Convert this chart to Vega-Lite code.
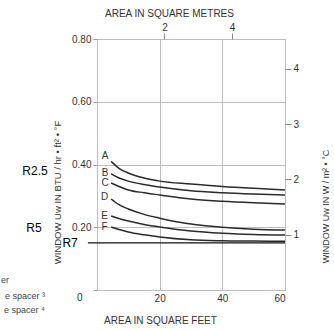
{
  "$schema": "https://vega.github.io/schema/vega-lite/v6.json",
  "width": 188,
  "height": 251,
  "autosize": {"type": "none"},
  "padding": {"left": 97, "top": 39, "right": 49, "bottom": 40},
  "background": "white",
  "config": {
    "font": "Liberation Sans",
    "view": {"stroke": "#a8a8a8", "strokeWidth": 1},
    "axis": {"labelColor": "#333", "titleColor": "#333", "titleFontWeight": "normal", "labelFont": "Liberation Sans", "titleFont": "Liberation Sans"}
  },
  "datasets": {
    "curves": [
      {"curve": "A", "x": 4.5, "u": 0.410}, {"curve": "A", "x": 7, "u": 0.388}, {"curve": "A", "x": 10, "u": 0.373}, {"curve": "A", "x": 15, "u": 0.357}, {"curve": "A", "x": 20, "u": 0.347}, {"curve": "A", "x": 30, "u": 0.338}, {"curve": "A", "x": 40, "u": 0.330}, {"curve": "A", "x": 50, "u": 0.324}, {"curve": "A", "x": 60, "u": 0.319},
      {"curve": "B", "x": 4.5, "u": 0.370}, {"curve": "B", "x": 7, "u": 0.357}, {"curve": "B", "x": 10, "u": 0.347}, {"curve": "B", "x": 15, "u": 0.336}, {"curve": "B", "x": 20, "u": 0.328}, {"curve": "B", "x": 30, "u": 0.316}, {"curve": "B", "x": 40, "u": 0.310}, {"curve": "B", "x": 50, "u": 0.306}, {"curve": "B", "x": 60, "u": 0.303},
      {"curve": "C", "x": 4.5, "u": 0.341}, {"curve": "C", "x": 7, "u": 0.330}, {"curve": "C", "x": 10, "u": 0.319}, {"curve": "C", "x": 15, "u": 0.310}, {"curve": "C", "x": 20, "u": 0.303}, {"curve": "C", "x": 30, "u": 0.290}, {"curve": "C", "x": 40, "u": 0.283}, {"curve": "C", "x": 50, "u": 0.278}, {"curve": "C", "x": 60, "u": 0.274},
      {"curve": "D", "x": 4.5, "u": 0.290}, {"curve": "D", "x": 7, "u": 0.272}, {"curve": "D", "x": 10, "u": 0.258}, {"curve": "D", "x": 15, "u": 0.241}, {"curve": "D", "x": 20, "u": 0.229}, {"curve": "D", "x": 30, "u": 0.210}, {"curve": "D", "x": 40, "u": 0.200}, {"curve": "D", "x": 50, "u": 0.194}, {"curve": "D", "x": 60, "u": 0.191},
      {"curve": "E", "x": 4.5, "u": 0.236}, {"curve": "E", "x": 7, "u": 0.228}, {"curve": "E", "x": 10, "u": 0.220}, {"curve": "E", "x": 15, "u": 0.209}, {"curve": "E", "x": 20, "u": 0.201}, {"curve": "E", "x": 30, "u": 0.188}, {"curve": "E", "x": 40, "u": 0.181}, {"curve": "E", "x": 50, "u": 0.177}, {"curve": "E", "x": 60, "u": 0.175},
      {"curve": "F", "x": 4.5, "u": 0.201}, {"curve": "F", "x": 7, "u": 0.193}, {"curve": "F", "x": 10, "u": 0.185}, {"curve": "F", "x": 15, "u": 0.176}, {"curve": "F", "x": 20, "u": 0.169}, {"curve": "F", "x": 30, "u": 0.160}, {"curve": "F", "x": 40, "u": 0.157}, {"curve": "F", "x": 50, "u": 0.156}, {"curve": "F", "x": 60, "u": 0.155}
    ],
    "curveLabels": [
      {"label": "A", "x": 2.6, "u": 0.427},
      {"label": "B", "x": 2.6, "u": 0.373},
      {"label": "C", "x": 2.6, "u": 0.341},
      {"label": "D", "x": 2.4, "u": 0.296},
      {"label": "E", "x": 2.4, "u": 0.236},
      {"label": "F", "x": 2.4, "u": 0.201}
    ],
    "r7": [{"x": -2.9, "u": 0.150}, {"x": 60, "u": 0.150}],
    "rLabels": [
      {"label": "R2.5", "x": -19.8, "u": 0.379},
      {"label": "R5", "x": -20.1, "u": 0.198},
      {"label": "R7", "x": -8.6, "u": 0.150}
    ],
    "notes": [
      {"label": "er", "x": -28.1, "u": 0.032},
      {"label": "e spacer ³", "x": -16.6, "u": -0.019},
      {"label": "e spacer ⁴", "x": -16.6, "u": -0.064}
    ],
    "secondary": [{"m": 0, "w": 0}, {"m": 5.574, "w": 4.542}]
  },
  "layer": [
    {
      "layer": [
        {
          "data": {"name": "curves"},
          "mark": {"type": "line", "interpolate": "monotone", "color": "#2a2a2a", "strokeWidth": 1.5},
          "encoding": {
            "x": {"field": "x", "type": "quantitative", "scale": {"domain": [0, 60], "nice": false},
              "axis": {"values": [0, 10, 20, 30, 40, 50, 60], "labelExpr": "datum.value % 20 == 0 && datum.value > 0 ? datum.label : ''", "ticks": false, "domain": false, "gridColor": "#bdbdbd", "gridWidth": 1, "labelFontSize": 10, "labelPadding": 3,
                "title": "AREA IN SQUARE FEET", "titleFontSize": 10, "titleX": 63, "titleY": 30, "titleBaseline": "middle", "titleAnchor": "middle", "titleAlign": "center"}},
            "y": {"field": "u", "type": "quantitative", "scale": {"domain": [0, 0.8], "nice": false},
              "axis": {"values": [0, 0.1, 0.2, 0.3, 0.4, 0.5, 0.6, 0.7, 0.8], "labelExpr": "datum.value == 0 ? '0' : (round(datum.value * 10) % 2 == 0 ? format(datum.value, '.2f') : '')", "tickSize": 4, "tickColor": "#999", "domain": false, "gridColor": "#bdbdbd", "gridWidth": 1, "labelFontSize": 10,
                "labelPadding": {"condition": {"test": "datum.value == 0", "value": 11}, "value": 2},
                "labelOffset": {"condition": {"test": "datum.value == 0", "value": 7}, "value": 0},
                "title": "WINDOW Uw IN BTU / hr • ft² • °F", "titleFontSize": 9.5, "titleX": -40, "titleY": 153, "titleAngle": -90, "titleBaseline": "middle", "titleAlign": "center", "titleAnchor": "middle"}},
            "detail": {"field": "curve"}
          }
        },
        {
          "data": {"name": "r7"},
          "mark": {"type": "line", "color": "#111", "strokeWidth": 1.3},
          "encoding": {
            "x": {"field": "x", "type": "quantitative"},
            "y": {"field": "u", "type": "quantitative"}
          }
        },
        {
          "data": {"name": "curveLabels"},
          "mark": {"type": "text", "fontSize": 10, "color": "#333", "align": "center", "baseline": "middle"},
          "encoding": {
            "x": {"field": "x", "type": "quantitative"},
            "y": {"field": "u", "type": "quantitative"},
            "text": {"field": "label"}
          }
        },
        {
          "data": {"name": "rLabels"},
          "mark": {"type": "text", "fontSize": 12, "color": "#000", "align": "center", "baseline": "middle"},
          "encoding": {
            "x": {"field": "x", "type": "quantitative"},
            "y": {"field": "u", "type": "quantitative"},
            "text": {"field": "label"}
          }
        },
        {
          "data": {"name": "notes"},
          "mark": {"type": "text", "fontSize": 9, "color": "#444", "align": "right", "baseline": "middle"},
          "encoding": {
            "x": {"field": "x", "type": "quantitative"},
            "y": {"field": "u", "type": "quantitative"},
            "text": {"field": "label"}
          }
        }
      ]
    },
    {
      "data": {"name": "secondary"},
      "mark": {"type": "point", "opacity": 0},
      "encoding": {
        "x": {"field": "m", "type": "quantitative", "scale": {"domain": [0, 5.574], "nice": false},
          "axis": {"orient": "top", "values": [2, 4], "grid": false, "domain": false, "tickSize": 6, "tickColor": "#888", "labelFontSize": 10, "labelPadding": 1,
            "title": "AREA IN SQUARE METRES", "titleFontSize": 10, "titleX": 72, "titleY": -26, "titleBaseline": "middle", "titleAlign": "center", "titleAnchor": "middle"}},
        "y": {"field": "w", "type": "quantitative", "scale": {"domain": [0, 4.542], "nice": false},
          "axis": {"orient": "right", "values": [1, 2, 3, 4], "grid": false, "domain": false, "tickSize": 6, "tickColor": "#888", "labelFontSize": 10, "labelPadding": 2,
            "title": "WINDOW Uw IN W / m² • °C", "titleFontSize": 9, "titleX": 40, "titleY": 167, "titleAngle": -90, "titleBaseline": "middle", "titleAlign": "center", "titleAnchor": "middle"}}
      }
    }
  ],
  "resolve": {"scale": {"x": "independent", "y": "independent"}}
}
